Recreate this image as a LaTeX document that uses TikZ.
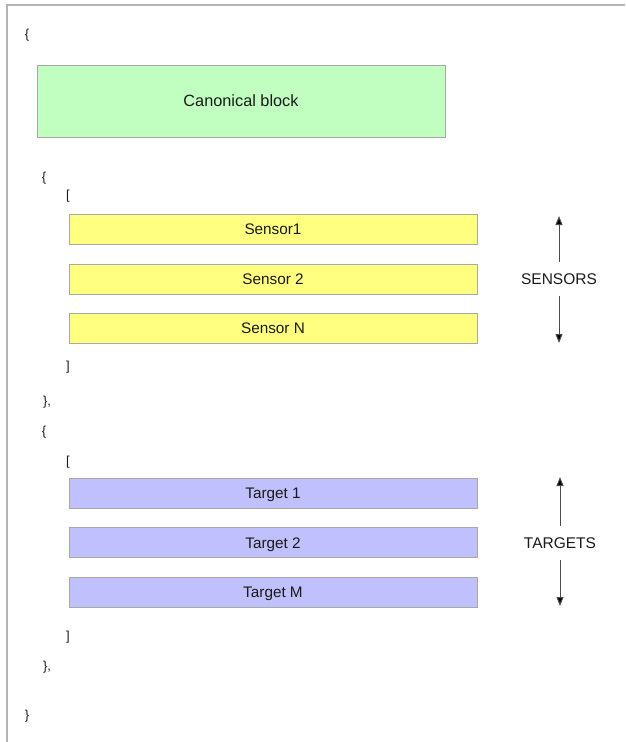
\documentclass[tikz,border=0pt]{standalone}
\usepackage{fontspec}
\setmainfont{Liberation Sans}
\usetikzlibrary{arrows.meta}
\definecolor{frameg}{HTML}{B4B4B4}
\definecolor{boxline}{HTML}{A8A8A8}
\definecolor{cgreen}{HTML}{C0FFC0}
\definecolor{cyellow}{HTML}{FFFF80}
\definecolor{cblue}{HTML}{C0C0FF}
\definecolor{txt}{HTML}{1A1A1A}
\tikzset{
  blk/.style={draw=boxline, line width=1pt, minimum width=408pt, minimum height=30pt, inner sep=0pt, text height=11pt, text depth=0pt, font=\fontsize{15.3}{17}\selectfont, text=txt},
  sensorbox/.style={blk, fill=cyellow},
  targetbox/.style={blk, fill=cblue},
  brk/.style={inner sep=0pt, font=\fontsize{13}{15}\selectfont, text=txt},
  sidelabel/.style={inner sep=0pt, minimum height=34pt, text height=11.2pt, text depth=0pt, font=\fontsize{15.5}{17}\selectfont, text=txt},
  arr/.style={draw=black!70, line width=1pt, -{Triangle[length=9pt,width=7pt,fill=black]}}
}
\begin{document}
\begin{tikzpicture}[x=1pt,y=-1pt]
\useasboundingbox (0,0) rectangle (625,742);
\draw[frameg, line width=1.6pt] (7,742) -- (7,5) -- (625,5);
\node[brk] (b1) at (27,35) {\{};
\node[blk, fill=cgreen, minimum width=408pt, minimum height=72pt, text height=11.7pt, font=\fontsize{16.3}{18}\selectfont] (canon) at (241,101) {Canonical block};
\node[brk] (b2) at (44,178) {\{};
\node[brk] (b3) at (68,196) {[};
\node[sensorbox] (s1) at (273,229) {Sensor1};
\node[sensorbox] (s2) at (273,279) {Sensor 2};
\node[sensorbox] (sn) at (273,328) {Sensor N};
\node[brk] (b4) at (68,367) {]};
\node[brk] (b5) at (47,402) {\},};
\node[brk] (b6) at (44,432) {\{};
\node[brk] (b7) at (68,462) {[};
\node[targetbox] (t1) at (273,493) {Target 1};
\node[targetbox] (t2) at (273,542.5) {Target 2};
\node[targetbox] (tm) at (273,592) {Target M};
\node[brk] (b8) at (68,637) {]};
\node[brk] (b9) at (47,667) {\},};
\node[brk] (b10) at (27,716) {\}};
\node[sidelabel] (sens) at (559,279) {SENSORS};
\coordinate (sensTop) at (559,216);
\coordinate (sensBot) at (559,343);
\draw[arr] (sens) -- (sensTop);
\draw[arr] (sens) -- (sensBot);
\node[sidelabel] (targ) at (560,543) {TARGETS};
\coordinate (targTop) at (560,477);
\coordinate (targBot) at (560,606);
\draw[arr] (targ) -- (targTop);
\draw[arr] (targ) -- (targBot);
\end{tikzpicture}
\end{document}
